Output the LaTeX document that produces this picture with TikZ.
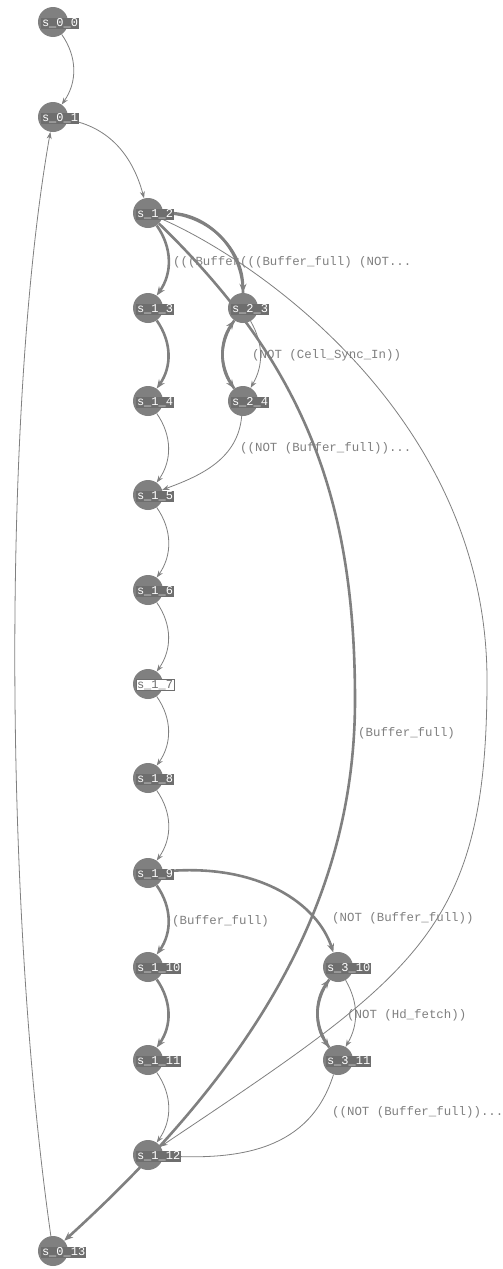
\documentclass[tikz,border=0pt]{standalone}
\usepackage{fontspec}
\setmonofont{Liberation Mono}
\usetikzlibrary{arrows.meta}
\pgfdeclarelayer{bg}
\pgfsetlayers{bg,main}
\definecolor{ec}{HTML}{808080}
\definecolor{lb}{HTML}{6E6E6E}
\tikzset{
  st/.style={circle,fill=ec,minimum size=30pt,inner sep=0pt},
  stl/.style={anchor=west,fill=lb,text=white,font=\ttfamily\fontsize{12}{12}\selectfont,inner sep=0.8pt,minimum height=11pt,text depth=0.5pt},
  stlx/.style={stl,fill=white,draw=lb,text=lb},
  thinedge/.style={draw=ec,line width=0.8pt,-{Stealth[length=7pt,width=5pt]}},
  thickedge/.style={draw=ec,line width=2.6pt,-{Stealth[length=9pt,width=7pt]}},
  el/.style={anchor=west,text=ec,font=\ttfamily\fontsize{12.4}{13}\selectfont,inner sep=0pt}
}
\newcommand\mkstate[5][stl]{\node[st] (#2) at (#3,#4) {};\node[#1] (#2l) at (#3-12,#4-1) {#5};}
\begin{document}
\begin{tikzpicture}[x=1pt,y=1pt]
\useasboundingbox (0,0) rectangle (503,-1269);
\mkstate{s00}{53}{-22}{s\_0\_0}
\mkstate{s01}{53}{-117}{s\_0\_1}
\mkstate{s12}{148}{-213}{s\_1\_2}
\mkstate{s13}{148}{-308}{s\_1\_3}
\mkstate{s23}{243}{-308}{s\_2\_3}
\mkstate{s14}{148}{-401}{s\_1\_4}
\mkstate{s24}{243}{-401}{s\_2\_4}
\mkstate{s15}{148}{-495}{s\_1\_5}
\mkstate{s16}{148}{-590}{s\_1\_6}
\mkstate[stlx]{s17}{148}{-684}{s\_1\_7}
\mkstate{s18}{148}{-778}{s\_1\_8}
\mkstate{s19}{148}{-873}{s\_1\_9}
\mkstate{s110}{148}{-967}{s\_1\_10}
\mkstate{s310}{338}{-967}{s\_3\_10}
\mkstate{s111}{148}{-1060}{s\_1\_11}
\mkstate{s311}{338}{-1060}{s\_3\_11}
\mkstate{s112}{148}{-1155}{s\_1\_12}
\mkstate{s013}{53}{-1251}{s\_0\_13}
\begin{pgfonlayer}{bg}
\fill[white] (0,0) rectangle (503,-1269);
\draw[thinedge] (s00) to[bend left=35] (s01);
\draw[thinedge] (s01) to[out=-10,in=105] (s12);
\draw[thickedge] (s12) to[bend left=35] (s13);
\draw[thickedge] (s13) to[bend left=35] (s14);
\draw[thinedge] (s14) to[bend left=35] (s15);
\draw[thinedge] (s15) to[bend left=35] (s16);
\draw[thinedge] (s16) to[bend left=35] (s17);
\draw[thinedge] (s17) to[bend left=35] (s18);
\draw[thinedge] (s18) to[bend left=35] (s19);
\draw[thickedge] (s19) to[bend left=35] (s110);
\draw[thickedge] (s110) to[bend left=35] (s111);
\draw[thinedge] (s111) to[bend left=35] (s112);
\draw[thickedge] (s12) to[bend left=45] (s23);
\draw[thickedge] (s23) to[bend right=45] (s12);
\draw[thickedge] (s23) to[bend right=35] (s24);
\draw[thickedge] (s24) to[bend left=35] (s23);
\draw[thinedge] (s23) to[bend left=30] (s24);
\draw[thinedge] (s24) to[out=-95,in=20] (s15);
\draw[thickedge] (s19) .. controls (260,-862) and (318,-905) .. (s310);
\draw[thickedge] (s310) to[bend right=35] (s311);
\draw[thickedge] (s311) to[bend left=35] (s310);
\draw[thinedge] (s310) to[bend left=30] (s311);
\draw[thinedge] (s311) .. controls (310,-1150) and (240,-1160) .. (s112);
\draw[thickedge] (s12) .. controls (305,-365) and (355,-500) .. (355,-700) .. controls (355,-900) and (255,-1067) .. (s013);
\draw[thinedge] (s12) .. controls (260,-262) and (487,-420) .. (487,-680) .. controls (487,-930) and (418,-974) .. (s112);
\draw[thinedge] (s013) .. controls (3,-900) and (3,-400) .. (s01);
\end{pgfonlayer}
\node[el] (l1) at (173,-262) {(((Buffer};
\node[el] (l2) at (240,-262) {(((Buffer\_full) (NOT...};
\node[el] (l3) at (252,-355) {(NOT (Cell\_Sync\_In))};
\node[el] (l4) at (240,-448) {((NOT (Buffer\_full))...};
\node[el] (l5) at (358,-733) {(Buffer\_full)};
\node[el] (l6) at (172,-921) {(Buffer\_full)};
\node[el] (l7) at (332,-918) {(NOT (Buffer\_full))};
\node[el] (l8) at (347,-1015) {(NOT (Hd\_fetch))};
\node[el] (l9) at (332,-1112) {((NOT (Buffer\_full))...};
\end{tikzpicture}
\end{document}
